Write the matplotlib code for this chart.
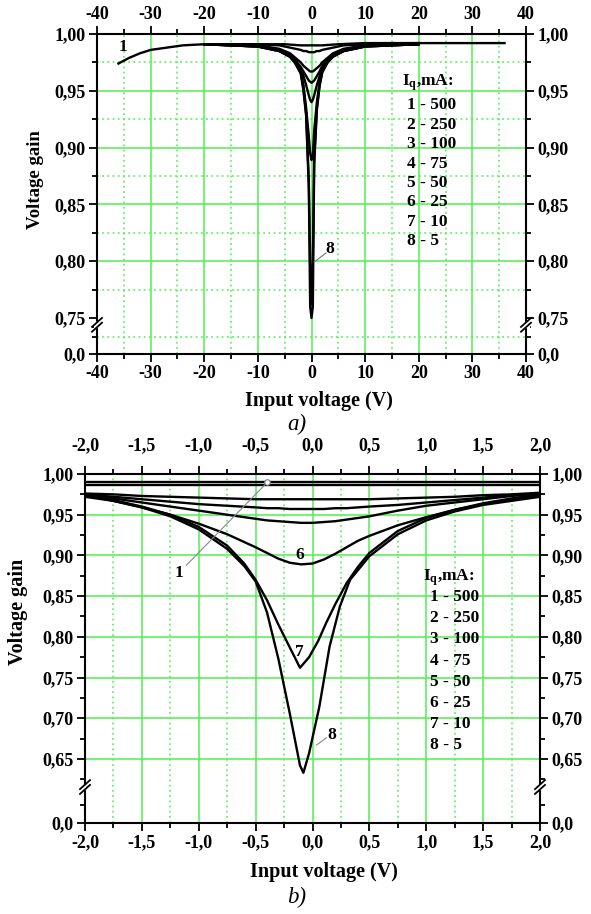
import matplotlib
matplotlib.use("Agg")
import matplotlib.pyplot as plt
from matplotlib.patches import Rectangle

plt.rcParams['font.family'] = ['Liberation Serif', 'DejaVu Serif']
plt.rcParams['font.weight'] = 'bold'
plt.rcParams['mathtext.fontset'] = 'custom'
plt.rcParams['mathtext.rm'] = 'Liberation Serif'
plt.rcParams['mathtext.bf'] = 'Liberation Serif:bold'
plt.rcParams['mathtext.it'] = 'Liberation Serif:italic:bold'

# ---------------- data: panel a ----------------
a_x1 = [-36, -34, -32, -30, -27, -24, -20, -15, -10, -5, -2, 0, 2, 5, 10, 15, 20, 25, 30, 36]
a_y1 = [0.974, 0.979, 0.983, 0.986, 0.988, 0.990, 0.991, 0.991, 0.991, 0.991, 0.990, 0.990,
        0.990, 0.991, 0.992, 0.992, 0.992, 0.992, 0.992, 0.992]
a_x = [-20, -10, -6, -4, -3, -2, -1.5, -1, -0.5, -0.25, 0, 0.25, 0.5, 1, 1.5, 2, 3, 4, 6, 10, 20]
a_y2 = [0.991, 0.991, 0.990, 0.988, 0.987, 0.986, 0.985, 0.985, 0.984, 0.984, 0.984, 0.984, 0.984,
        0.985, 0.985, 0.986, 0.987, 0.988, 0.990, 0.991, 0.992]
a_y3 = [0.991, 0.990, 0.987, 0.983, 0.979, 0.975, 0.972, 0.970, 0.968, 0.967, 0.967, 0.967, 0.968,
        0.970, 0.972, 0.975, 0.979, 0.983, 0.987, 0.990, 0.991]
a_y4 = [0.991, 0.990, 0.986, 0.982, 0.977, 0.971, 0.967, 0.963, 0.959, 0.958, 0.957, 0.958, 0.959,
        0.963, 0.967, 0.972, 0.978, 0.982, 0.986, 0.990, 0.991]
a_y5 = [0.991, 0.989, 0.986, 0.981, 0.976, 0.969, 0.963, 0.955, 0.946, 0.942, 0.940, 0.942, 0.946,
        0.955, 0.963, 0.970, 0.977, 0.981, 0.986, 0.990, 0.991]
a_y6 = [0.991, 0.989, 0.985, 0.980, 0.975, 0.967, 0.955, 0.935, 0.910, 0.895, 0.889, 0.893, 0.915,
        0.940, 0.957, 0.968, 0.976, 0.981, 0.985, 0.989, 0.991]
a_y7 = [0.991, 0.989, 0.985, 0.980, 0.974, 0.966, 0.952, 0.930, 0.870, 0.800, 0.762, 0.800, 0.890,
        0.935, 0.955, 0.967, 0.975, 0.980, 0.985, 0.989, 0.991]
a_y8 = [0.991, 0.989, 0.985, 0.980, 0.974, 0.965, 0.950, 0.928, 0.865, 0.760, 0.750, 0.760, 0.885,
        0.933, 0.954, 0.966, 0.975, 0.980, 0.985, 0.989, 0.991]

# ---------------- data: panel b ----------------
b_x = [-2.0, -1.75, -1.5, -1.25, -1.0, -0.75, -0.5, -0.4, -0.3, -0.2, -0.1, 0.0, 0.1, 0.2,
       0.3, 0.4, 0.5, 0.75, 1.0, 1.25, 1.5, 1.75, 2.0]
b_y1 = [0.990] * 23
b_y2 = [0.986] * 23
b_y3 = [0.976, 0.975, 0.973, 0.972, 0.971, 0.970, 0.969, 0.969, 0.969, 0.969, 0.969, 0.969, 0.969,
        0.969, 0.969, 0.969, 0.969, 0.970, 0.971, 0.972, 0.974, 0.975, 0.977]
b_y4 = [0.975, 0.972, 0.969, 0.966, 0.963, 0.961, 0.959, 0.958, 0.958, 0.957, 0.957, 0.957, 0.957,
        0.958, 0.958, 0.959, 0.960, 0.962, 0.965, 0.968, 0.971, 0.974, 0.976]
b_y5 = [0.975, 0.970, 0.965, 0.960, 0.955, 0.950, 0.945, 0.943, 0.942, 0.941, 0.940, 0.940, 0.941,
        0.942, 0.944, 0.946, 0.948, 0.955, 0.961, 0.965, 0.969, 0.973, 0.976]
b_y6 = [0.974, 0.967, 0.959, 0.950, 0.939, 0.926, 0.910, 0.903, 0.896, 0.891, 0.889, 0.890, 0.895,
        0.902, 0.910, 0.918, 0.924, 0.937, 0.947, 0.956, 0.964, 0.970, 0.975]
b_x7 = [-2.0, -1.75, -1.5, -1.25, -1.0, -0.75, -0.6, -0.5, -0.4, -0.3, -0.2, -0.11, -0.03, 0.05,
        0.12, 0.2, 0.3, 0.4, 0.5, 0.75, 1.0, 1.25, 1.5, 1.75, 2.0]
b_y7 = [0.973, 0.968, 0.960, 0.950, 0.935, 0.912, 0.890, 0.870, 0.845, 0.815, 0.787, 0.762, 0.775,
        0.795, 0.817, 0.840, 0.866, 0.886, 0.903, 0.930, 0.946, 0.956, 0.963, 0.968, 0.973]
b_x8 = [-2.0, -1.75, -1.5, -1.25, -1.0, -0.75, -0.6, -0.5, -0.4, -0.3, -0.2, -0.11, -0.08, -0.03,
        0.06, 0.15, 0.24, 0.33, 0.4, 0.5, 0.75, 1.0, 1.25, 1.5, 1.75, 2.0]
b_y8 = [0.972, 0.967, 0.959, 0.948, 0.932, 0.908, 0.887, 0.868, 0.830, 0.773, 0.706, 0.642, 0.633,
        0.657, 0.714, 0.788, 0.837, 0.870, 0.882, 0.899, 0.926, 0.943, 0.954, 0.962, 0.967, 0.972]

legend_ids = ['1', '2', '3', '4', '5', '6', '7', '8']
legend_currents = ['500', '250', '100', '75', '50', '25', '10', '5']

# ticks / labels
a_xticks = [-40, -30, -20, -10, 0, 10, 20, 30, 40]
a_xlabels = ['-40', '-30', '-20', '-10', '0', '10', '20', '30', '40']
a_ylo = 0.7183
a_yticks = [a_ylo, 0.75, 0.80, 0.85, 0.90, 0.95, 1.00]
a_ylabels = ['0,0', '0,75', '0,80', '0,85', '0,90', '0,95', '1,00']

b_xticks = [-2.0, -1.5, -1.0, -0.5, 0.0, 0.5, 1.0, 1.5, 2.0]
b_xlabels = ['-2,0', '-1,5', '-1,0', '-0,5', '0,0', '0,5', '1,0', '1,5', '2,0']
b_ylo = 0.5713
b_yticks = [b_ylo, 0.65, 0.70, 0.75, 0.80, 0.85, 0.90, 0.95, 1.00]
b_ylabels = ['0,0', '0,65', '0,70', '0,75', '0,80', '0,85', '0,90', '0,95', '1,00']

GREEN = '#50f050'
W, H = 591, 914
fig = plt.figure(figsize=(W / 100, H / 100), dpi=100)

axa = fig.add_axes([97 / W, 1 - 354 / H, 429 / W, 320 / H])
axb = fig.add_axes([85 / W, 1 - 823 / H, 455 / W, 349 / H])


def style(ax, xlim, ylim, xt, xl, xminor, yt, yl, yminor, wpx, hpx,
          gx_major, gx_minor, gy_major, gy_minor, brk, toppad):
    ax.set_xlim(*xlim)
    ax.set_ylim(*ylim)
    ax.set_xticks(xt)
    ax.set_xticklabels(xl)
    ax.set_xticks(xminor, minor=True)
    ax.set_yticks(yt)
    ax.set_yticklabels(yl)
    ax.set_yticks(yminor, minor=True)
    ax.tick_params(which='both', direction='out', top=True, right=True,
                   labeltop=True, labelright=True, width=1.3, labelsize=13, pad=2)
    ax.tick_params(which='major', length=6)
    ax.tick_params(which='minor', length=3.5)
    for s in ax.spines.values():
        s.set_linewidth(1.5)
    for g in gx_major:
        ax.axvline(g, color=GREEN, lw=1.1, zorder=1)
    for g in gx_minor:
        ax.axvline(g, color=GREEN, lw=1.1, ls=(0, (1.2, 2.2)), zorder=1)
    for g in gy_major:
        ax.axhline(g, color=GREEN, lw=1.1, zorder=1)
    for g in gy_minor:
        ax.axhline(g, color=GREEN, lw=1.1, ls=(0, (1.2, 2.2)), zorder=1)
    # axis break marks
    ylo, yhi = ax.get_ylim()
    yf = (brk - ylo) / (yhi - ylo)
    dx = 5 / wpx
    dy = 4.5 / hpx
    gap = 2.4 / hpx
    for xf in (0, 1):
        ax.add_patch(Rectangle((xf - 3 / wpx, yf - gap), 6 / wpx, 2 * gap,
                               transform=ax.transAxes, color='white',
                               clip_on=False, zorder=5))
        for sgn in (-1, 1):
            ax.plot([xf - dx, xf + dx], [yf + sgn * gap - dy, yf + sgn * gap + dy],
                    transform=ax.transAxes, color='black', lw=1.3,
                    clip_on=False, zorder=6)
    # extra gap for the top tick labels
    for t in ax.xaxis.get_major_ticks():
        t.label2.set_y(1.0 + toppad / hpx)


style(axa, (-40, 40), (a_ylo, 1.0), a_xticks, a_xlabels,
      [-35, -25, -15, -5, 5, 15, 25, 35], a_yticks, a_ylabels,
      [0.733, 0.742, 0.775, 0.825, 0.875, 0.925, 0.975], 429, 320,
      [-30, -20, -10, 0, 10, 20, 30], [-35, -25, -15, -5, 5, 15, 25, 35],
      [0.80, 0.85, 0.90, 0.95], [0.733, 0.775, 0.825, 0.875, 0.925, 0.975], 0.744, 0)

style(axb, (-2, 2), (b_ylo, 1.0), b_xticks, b_xlabels,
      [-1.75, -1.25, -0.75, -0.25, 0.25, 0.75, 1.25, 1.75], b_yticks, b_ylabels,
      [0.594, 0.625, 0.675, 0.725, 0.775, 0.825, 0.875, 0.925, 0.975], 455, 349,
      [-1.5, -1.0, -0.5, 0.0, 0.5, 1.0, 1.5], [-1.75, -1.25, -0.75, -0.25, 0.25, 0.75, 1.25, 1.75],
      [0.65, 0.70, 0.75, 0.80, 0.85, 0.90, 0.95], [], 0.6155, 9)

LW = 1.7
axa.plot(a_x1, a_y1, color='black', lw=LW, zorder=3)
for yy in (a_y2, a_y3, a_y4, a_y5, a_y6, a_y7, a_y8):
    axa.plot(a_x, yy, color='black', lw=LW, zorder=3)

for yy in (b_y1, b_y2, b_y3, b_y4, b_y5, b_y6):
    axb.plot(b_x, yy, color='black', lw=LW, zorder=3)
axb.plot(b_x7, b_y7, color='black', lw=LW, zorder=3)
axb.plot(b_x8, b_y8, color='black', lw=LW, zorder=3)

# axis labels
for ax, lx, ly, ylx, yly, yfs in ((axa, 0.517, -0.116, -0.123, 0.544, 13.5),
                                  (axb, 0.525, -0.112, -0.126, 0.605, 14.5)):
    ax.set_xlabel('Input voltage (V)', fontsize=14.5, fontweight='bold')
    ax.xaxis.set_label_coords(lx, ly)
    ax.set_ylabel('Voltage gain', fontsize=yfs, fontweight='bold')
    ax.yaxis.set_label_coords(ylx, yly)


# legends
def legend_block(ax, tx, ty, ix, iy, step):
    ax.text(tx, ty, r'$\mathbf{I_{q}}$,mA:', transform=ax.transAxes,
            ha='left', va='center', fontsize=12.5, fontweight='bold', zorder=4)
    for k, (i, c) in enumerate(zip(legend_ids, legend_currents)):
        ax.text(ix, iy - k * step, f'{i} - {c}', transform=ax.transAxes,
                ha='left', va='center', fontsize=12.5, fontweight='bold', zorder=4)


legend_block(axa, 0.711, 0.847, 0.7226, 0.778, 0.0609)
legend_block(axb, 0.743, 0.702, 0.758, 0.6476, 0.0607)

# curve labels
axa.text(-35.2, 0.9886, '1', ha='center', va='center', fontsize=12.5, zorder=4)
axa.plot([0.5, 2.7], [0.7993, 0.8072], color='#777777', lw=0.8, zorder=4)
axa.text(3.4, 0.8107, '8', ha='center', va='center', fontsize=12.5, zorder=4)

axb.plot([-1.108, -0.396], [0.888, 0.990], color='#888888', lw=0.8, zorder=4)
axb.plot([-0.396], [0.990], marker='o', ms=4, mfc='white', mec='#777777', mew=0.8, zorder=5)
axb.text(-1.17, 0.8784, '1', ha='center', va='center', fontsize=12.5, zorder=4)
axb.text(-0.114, 0.9005, '6', ha='center', va='center', fontsize=12.5, zorder=4)
axb.text(-0.114, 0.781, '7', ha='center', va='center', fontsize=12.5, zorder=4)
axb.plot([0.035, 0.123], [0.667, 0.676], color='#888888', lw=0.8, zorder=4)
axb.text(0.167, 0.679, '8', ha='center', va='center', fontsize=12.5, zorder=4)

fig.text(297 / W, 1 - 424 / H, 'a)', ha='center', va='center', fontsize=16.5,
         style='italic', fontweight='normal')
fig.text(297 / W, 1 - 897 / H, 'b)', ha='center', va='center', fontsize=16.5,
         style='italic', fontweight='normal')

fig.savefig('out.png', dpi=100)
